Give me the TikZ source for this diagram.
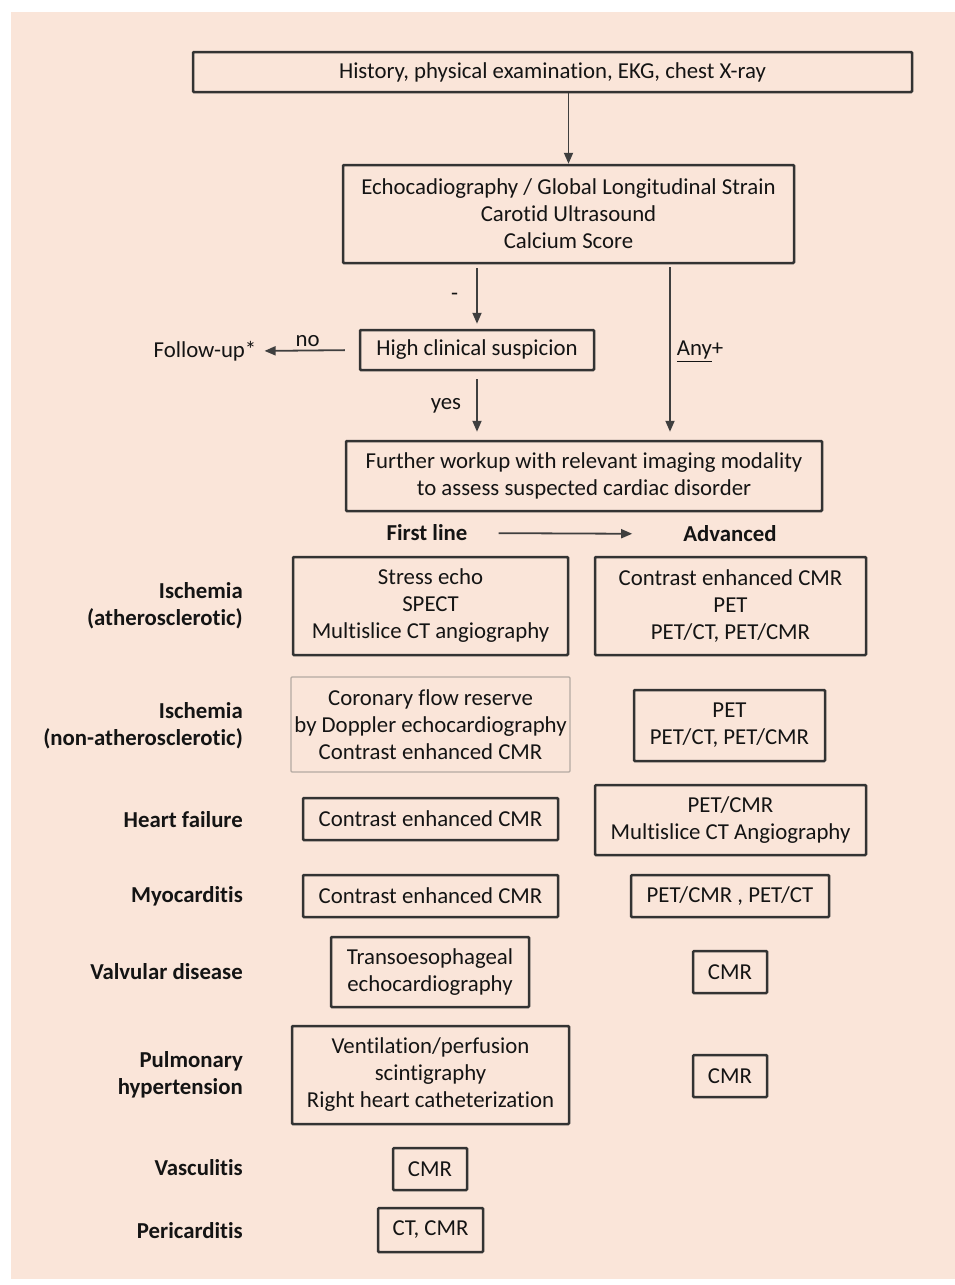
\documentclass[tikz,border=0pt]{standalone}
\usepackage{fontspec}
\setmainfont{Carlito}[Ligatures=NoCommon]
\usepackage{tikz}
\usetikzlibrary{arrows.meta,positioning,calc}
\definecolor{peach}{HTML}{FAE5D9}
\definecolor{boxline}{HTML}{333333}
\definecolor{arrline}{HTML}{3F3F3F}
\definecolor{softline}{HTML}{B4AAA2}

\begin{document}
\begin{tikzpicture}[x=1pt,y=-1pt]
\tikzset{every node/.style={font=\fontsize{22.8}{27}\selectfont,text=black!92,align=center,inner sep=0pt}}
\tikzset{box/.style 2 args={draw=boxline,line width=2.5pt,rounded corners=1pt,minimum width=#1,minimum height=#2},
  arr/.style={draw=arrline,line width=1.8pt,-{Triangle[length=11pt,width=9pt]}},
  cat/.style={font=\fontsize{22.8}{27}\selectfont\bfseries,align=right,anchor=east}}
\useasboundingbox (0,0) rectangle (955,1285);
\fill[peach] (11,12) rectangle (955,1279);

\node[box={719}{40}] (hist) at (552.5,72) {History, physical examination, EKG, chest X-ray};
\node[box={451}{98}] (echo) at (568.5,214) {Echocadiography / Global Longitudinal Strain\\Carotid Ultrasound\\Calcium Score};
\node[box={234}{40}] (susp) at (477,350) {High clinical suspicion};
\node (follow) at (205,351) {Follow-up*};
\node[box={476}{70}] (further) at (584,476) {Further workup with relevant imaging modality\\to assess suspected cardiac disorder};
\coordinate (anytop) at (670,263);
\node[font=\fontsize{22.8}{27}\selectfont\bfseries] (first) at (427,533) {First line};
\node[font=\fontsize{22.8}{27}\selectfont\bfseries] (adv) at (730,534) {Advanced};

\node[cat] (isch) at (243,606) {Ischemia\\(atherosclerotic)};
\node[box={275}{98}] (isch1) at (430.5,606) {Stress echo\\SPECT\\Multislice CT angiography};
\node[box={271}{98}] (isch2) at (730.5,606) {Contrast enhanced CMR\\PET\\PET/CT, PET/CMR};
\node[cat] (nonath) at (243,726) {Ischemia\\(non-atherosclerotic)};
\node[box={279}{95},draw=softline,line width=1.2pt] (nonath1) at (430.5,724.5) {Coronary flow reserve\\by Doppler echocardiography\\Contrast enhanced CMR};
\node[box={191}{71}] (nonath2) at (729.5,725.5) {PET\\PET/CT, PET/CMR};
\node[cat] (hf) at (243,820) {Heart failure};
\node[box={255}{42}] (hf1) at (430.5,819) {Contrast enhanced CMR};
\node[box={271}{70}] (hf2) at (730.5,820) {PET/CMR\\Multislice CT Angiography};
\node[cat] (myo) at (243,896) {Myocarditis};
\node[box={255}{42}] (myo1) at (430.5,896) {Contrast enhanced CMR};
\node[box={198}{42}] (myo2) at (730,896) {PET/CMR , PET/CT};
\node[cat] (valv) at (243,972) {Valvular disease};
\node[box={198}{70}] (valv1) at (430,972) {Transoesophageal\\echocardiography};
\node[box={74}{42}] (valv2) at (730,972) {CMR};
\node[cat] (pulm) at (243,1075) {Pulmonary\\hypertension};
\node[box={277}{98}] (pulm1) at (430.5,1075) {Ventilation/perfusion\\scintigraphy\\Right heart catheterization};
\node[box={74}{42}] (pulm2) at (730,1076) {CMR};
\node[cat] (vasc) at (243,1168) {Vasculitis};
\node[box={74}{42}] (vasc1) at (430,1169) {CMR};
\node[cat] (peri) at (243,1231) {Pericarditis};
\node[box={105}{44}] (peri1) at (430.5,1230) {CT, CMR};

\draw[arr] (hist.south -| echo.north) -- (echo.north);
\draw[arr,shorten <=4pt,shorten >=5pt] (echo.south -| susp.north) -- node[left=18pt]{-} (susp.north);
\draw[arr,shorten <=14pt,shorten >=8pt] (susp.west) -- node[above=3pt]{no} (follow.east);
\draw[arr,shorten <=8pt,shorten >=8pt] (susp.south) -- node[left=15pt]{yes} (further.north -| susp.south);
\draw[arr,shorten <=4pt,shorten >=8pt] (anytop) -- node[right=6pt]{\underline{Any}+} (anytop |- further.north);
\draw[arr,shorten <=31pt,shorten >=51pt] (first.east) -- (adv.west);
\end{tikzpicture}
\end{document}
